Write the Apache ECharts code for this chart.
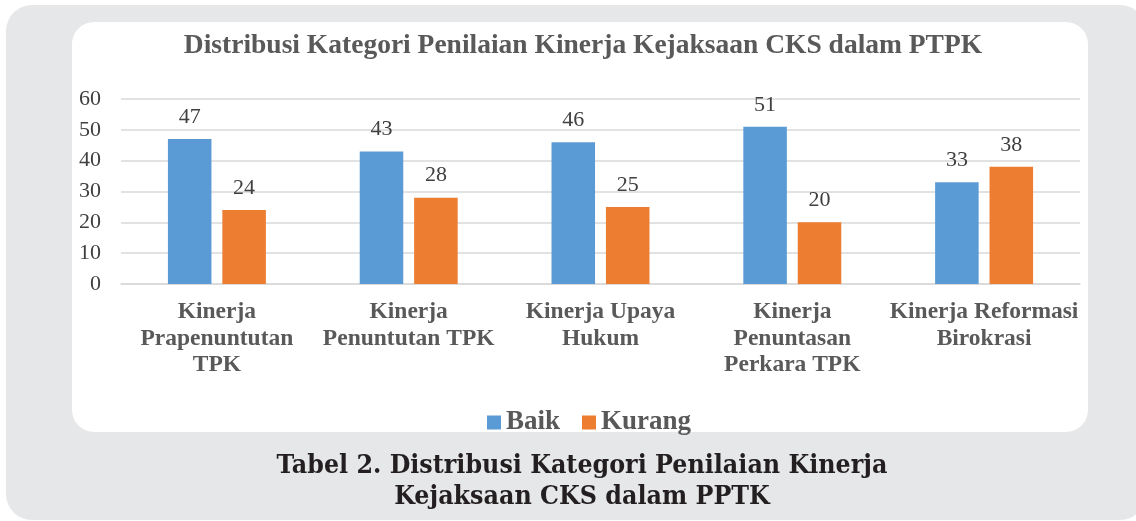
<!DOCTYPE html>
<html>
<head>
<meta charset="utf-8">
<script src="https://cdn.jsdelivr.net/npm/echarts@6/dist/echarts.min.js"></script>
<style>
  html, body { margin: 0; padding: 0; background: #ffffff; }
  #chart { width: 1136px; height: 521px; }
</style>
</head>
<body>
<div id="chart"></div>
<script>
// data
var categories = [
  'Kinerja\nPrapenuntutan\nTPK',
  'Kinerja\nPenuntutan TPK',
  'Kinerja Upaya\nHukum',
  'Kinerja\nPenuntasan\nPerkara TPK',
  'Kinerja Reformasi\nBirokrasi'
];
var baik = [47, 43, 46, 51, 33];
var kurang = [24, 28, 25, 20, 38];
var seriesNames = ['Baik', 'Kurang'];

var serif = '"Liberation Serif", "Times New Roman", serif';
var captionFont = '"DejaVu Serif Condensed", "DejaVu Serif", serif';

var chart = echarts.init(document.getElementById('chart'));

var option = {
  animation: false,
  // panel backgrounds
  graphic: [
    { type: 'rect', z: -10, shape: { x: 6, y: 5, width: 1140, height: 515, r: 26 }, style: { fill: '#e6e7e9' } },
    { type: 'rect', z: -9, shape: { x: 72, y: 22, width: 1016, height: 410, r: 22 }, style: { fill: '#ffffff' } }
  ],
  title: [
    {
      text: 'Distribusi Kategori Penilaian Kinerja Kejaksaan CKS dalam PTPK',
      left: 578, top: 27, textAlign: 'center',
      textStyle: { fontFamily: serif, fontWeight: 'bold', fontSize: 27.5, color: '#595959' }
    },
    {
      text: 'Tabel 2. Distribusi Kategori Penilaian Kinerja\nKejaksaan CKS dalam PPTK',
      left: 577, top: 446, textAlign: 'center',
      textStyle: { fontFamily: captionFont, fontWeight: 'bold', fontSize: 26.5, lineHeight: 31, color: '#231f20' }
    }
  ],
  legend: {
    data: seriesNames,
    left: 482, top: 404,
    itemWidth: 14, itemHeight: 14, itemGap: 22,
    icon: 'rect',
    textStyle: { fontFamily: serif, fontWeight: 'bold', fontSize: 27, color: '#595959' }
  },
  grid: { left: 121, right: 56, top: 99, bottom: 237 },
  xAxis: {
    type: 'category',
    data: categories,
    axisTick: { show: false },
    axisLine: { show: true, lineStyle: { color: '#d9d9d9', width: 1.5 } },
    axisLabel: {
      interval: 0, margin: 15,
      fontFamily: serif, fontWeight: 'bold', fontSize: 23.5, lineHeight: 26.5, color: '#595959'
    }
  },
  yAxis: {
    type: 'value',
    min: 0, max: 60, interval: 10,
    axisLine: { show: false },
    axisTick: { show: false },
    splitLine: { lineStyle: { color: '#d9d9d9', width: 1.5 } },
    axisLabel: { margin: 20, fontFamily: serif, fontSize: 22, color: '#404040' }
  },
  series: [
    {
      name: 'Baik', type: 'bar', data: baik,
      barWidth: '22.7%', barGap: '25%',
      itemStyle: { color: '#5b9bd5' },
      label: { show: true, position: 'top', distance: 11, fontFamily: serif, fontSize: 22, color: '#404040' }
    },
    {
      name: 'Kurang', type: 'bar', data: kurang,
      barWidth: '22.7%', barGap: '25%',
      itemStyle: { color: '#ed7d31' },
      label: { show: true, position: 'top', distance: 11, fontFamily: serif, fontSize: 22, color: '#404040' }
    }
  ]
};

chart.setOption(option);
</script>
</body>
</html>
